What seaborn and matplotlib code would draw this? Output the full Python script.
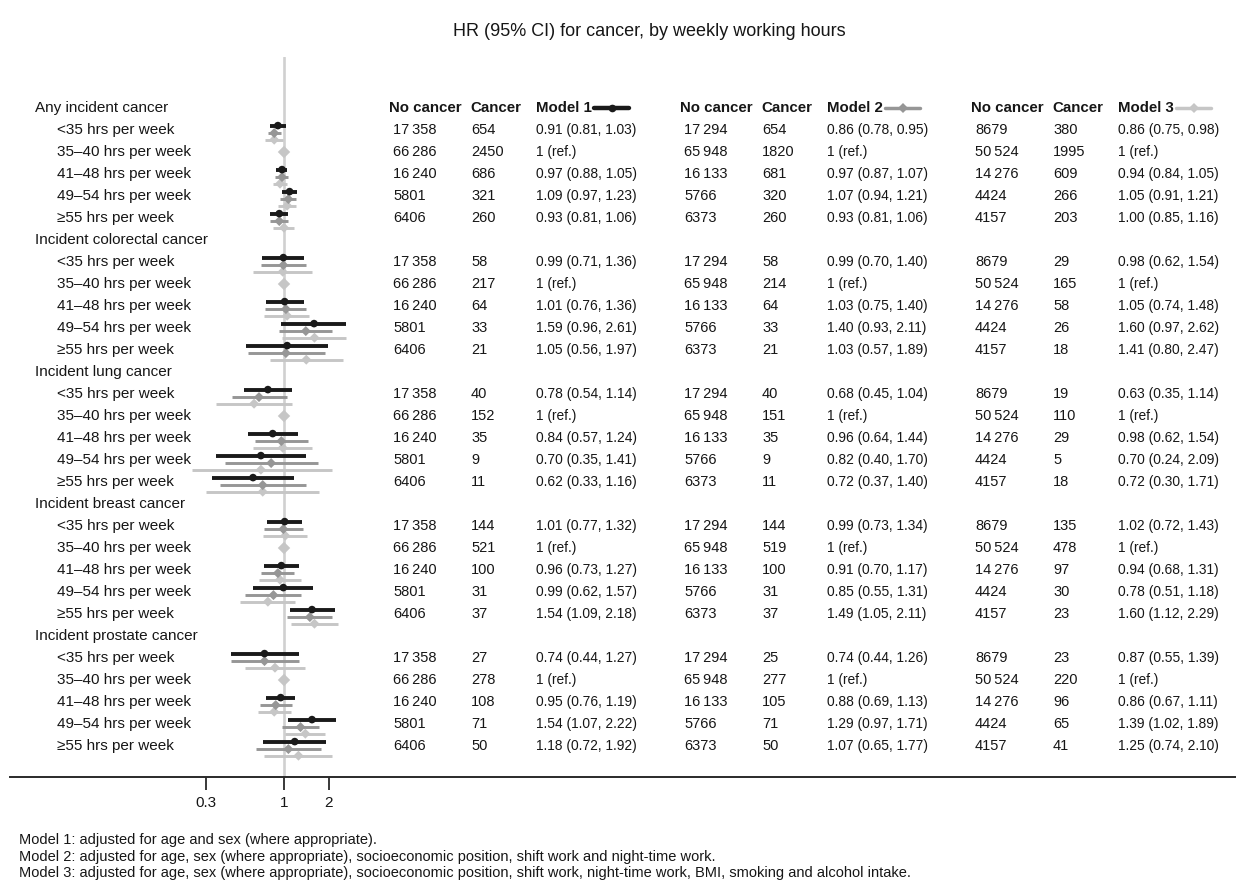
import numpy as np
import pandas as pd
import matplotlib
matplotlib.use("Agg")
import matplotlib.pyplot as plt
import seaborn as sns
from matplotlib.transforms import blended_transform_factory
from matplotlib.lines import Line2D

# ---------------- data ----------------
outcomes = ["Any incident cancer", "Incident colorectal cancer", "Incident lung cancer",
            "Incident breast cancer", "Incident prostate cancer"]
hours = ["<35 hrs per week", "35\u201340 hrs per week", "41\u201348 hrs per week",
         "49\u201354 hrs per week", "\u226555 hrs per week"]
models = ["Model 1", "Model 2", "Model 3"]

m1_nocancer = [17358, 66286, 16240, 5801, 6406]
m2_nocancer = [17294, 65948, 16133, 5766, 6373]
m3_nocancer = [8679, 50524, 14276, 4424, 4157]

m1_cases = [[654, 2450, 686, 321, 260], [58, 217, 64, 33, 21], [40, 152, 35, 9, 11],
            [144, 521, 100, 31, 37], [27, 278, 108, 71, 50]]
m2_cases = [[654, 1820, 681, 320, 260], [58, 214, 64, 33, 21], [40, 151, 35, 9, 11],
            [144, 519, 100, 31, 37], [25, 277, 105, 71, 50]]
m3_cases = [[380, 1995, 609, 266, 203], [29, 165, 58, 26, 18], [19, 110, 29, 5, 18],
            [135, 478, 97, 30, 23], [23, 220, 96, 65, 41]]

m1_hr = [[0.91, None, 0.97, 1.09, 0.93], [0.99, None, 1.01, 1.59, 1.05], [0.78, None, 0.84, 0.70, 0.62],
         [1.01, None, 0.96, 0.99, 1.54], [0.74, None, 0.95, 1.54, 1.18]]
m1_lo = [[0.81, None, 0.88, 0.97, 0.81], [0.71, None, 0.76, 0.96, 0.56], [0.54, None, 0.57, 0.35, 0.33],
         [0.77, None, 0.73, 0.62, 1.09], [0.44, None, 0.76, 1.07, 0.72]]
m1_hi = [[1.03, None, 1.05, 1.23, 1.06], [1.36, None, 1.36, 2.61, 1.97], [1.14, None, 1.24, 1.41, 1.16],
         [1.32, None, 1.27, 1.57, 2.18], [1.27, None, 1.19, 2.22, 1.92]]

m2_hr = [[0.86, None, 0.97, 1.07, 0.93], [0.99, None, 1.03, 1.40, 1.03], [0.68, None, 0.96, 0.82, 0.72],
         [0.99, None, 0.91, 0.85, 1.49], [0.74, None, 0.88, 1.29, 1.07]]
m2_lo = [[0.78, None, 0.87, 0.94, 0.81], [0.70, None, 0.75, 0.93, 0.57], [0.45, None, 0.64, 0.40, 0.37],
         [0.73, None, 0.70, 0.55, 1.05], [0.44, None, 0.69, 0.97, 0.65]]
m2_hi = [[0.95, None, 1.07, 1.21, 1.06], [1.40, None, 1.40, 2.11, 1.89], [1.04, None, 1.44, 1.70, 1.40],
         [1.34, None, 1.17, 1.31, 2.11], [1.26, None, 1.13, 1.71, 1.77]]

m3_hr = [[0.86, None, 0.94, 1.05, 1.00], [0.98, None, 1.05, 1.60, 1.41], [0.63, None, 0.98, 0.70, 0.72],
         [1.02, None, 0.94, 0.78, 1.60], [0.87, None, 0.86, 1.39, 1.25]]
m3_lo = [[0.75, None, 0.84, 0.91, 0.85], [0.62, None, 0.74, 0.97, 0.80], [0.35, None, 0.62, 0.24, 0.30],
         [0.72, None, 0.68, 0.51, 1.12], [0.55, None, 0.67, 1.02, 0.74]]
m3_hi = [[0.98, None, 1.05, 1.21, 1.16], [1.54, None, 1.48, 2.62, 2.47], [1.14, None, 1.54, 2.09, 1.71],
         [1.43, None, 1.31, 1.18, 2.29], [1.39, None, 1.11, 1.89, 2.10]]

tick_values = [0.3, 1, 2]
tick_labels = ["0.3", "1", "2"]

title = "HR (95% CI) for cancer, by weekly working hours"
footnotes = [
    "Model 1: adjusted for age and sex (where appropriate).",
    "Model 2: adjusted for age, sex (where appropriate), socioeconomic position, shift work and night-time work.",
    "Model 3: adjusted for age, sex (where appropriate), socioeconomic position, shift work, night-time work, BMI, smoking and alcohol intake.",
]

# ---------------- style ----------------
sns.set_theme(style="white")
plt.rcParams["font.family"] = ["Liberation Sans", "DejaVu Sans"]
TXT = "#161616"
colors = {"Model 1": "#1a1a1a", "Model 2": "#969696", "Model 3": "#c6c6c6"}
markers = {"Model 1": "o", "Model 2": "D", "Model 3": "D"}
msize = {"Model 1": 30, "Model 2": 26, "Model 3": 26}
ci_lw = {"Model 1": 2.8, "Model 2": 2.1, "Model 3": 2.1}
offsets = {"Model 1": -0.20, "Model 2": 0.14, "Model 3": 0.44}

W, H = 1236, 880
fig = plt.figure(figsize=(W / 100, H / 100), dpi=100)
ax_l, ax_r, ax_t, ax_b = 10, 1236, 57, 777
ax = fig.add_axes([ax_l / W, 1 - ax_b / H, (ax_r - ax_l) / W, (ax_b - ax_t) / H])

row0_px, row_step = 108, 22.0
ax.set_ylim((ax_b - row0_px) / row_step, (ax_t - row0_px) / row_step)
px_per_ln = 64.8
x1_px = 284
ax.set_xscale("log")
ax.set_xlim(np.exp((ax_l - x1_px) / px_per_ln), np.exp((ax_r - x1_px) / px_per_ln))

# ---------------- build long table ----------------
recs = []
all_hr = {"Model 1": (m1_hr, m1_lo, m1_hi), "Model 2": (m2_hr, m2_lo, m2_hi), "Model 3": (m3_hr, m3_lo, m3_hi)}
for g in range(len(outcomes)):
    for h in range(len(hours)):
        line = g * 6 + 1 + h
        for m in models:
            hr, lo, hi = all_hr[m]
            recs.append(dict(outcome=outcomes[g], hours=hours[h], model=m, line=line,
                             hr=hr[g][h], lo=lo[g][h], hi=hi[g][h]))
df = pd.DataFrame(recs)
est = df[df["hr"].notna()].copy()
est["ypos"] = est["line"] + est["model"].map(offsets)
ref = df[df["hr"].isna() & (df["model"] == "Model 3")].copy()
ref["hr"] = 1.0

# reference line
ax.axvline(1, color="#d0d0d0", lw=1.9, zorder=0)

# CIs and point estimates (model 3 drawn first, model 1 on top)
for i, m in enumerate(["Model 3", "Model 2", "Model 1"]):
    d = est[est["model"] == m]
    ax.hlines(d["ypos"], d["lo"], d["hi"], color=colors[m], lw=ci_lw[m], zorder=1 + i)
for i, m in enumerate(["Model 3", "Model 2", "Model 1"]):
    d = est[est["model"] == m]
    sns.scatterplot(data=d, x="hr", y="ypos", color=colors[m], marker=markers[m],
                    s=msize[m], edgecolor="none", linewidth=0,
                    legend=False, ax=ax, zorder=5 + i)
sns.scatterplot(data=ref, x="hr", y="line", color=colors["Model 3"], marker="D", s=40,
                edgecolor="none", linewidth=0, legend=False, ax=ax, zorder=4)

# axes styling
for s in ["top", "left", "right"]:
    ax.spines[s].set_visible(False)
ax.spines["bottom"].set_color("#2a2a2a")
ax.spines["bottom"].set_linewidth(1.4)
ax.set_xticks(tick_values)
ax.set_xticklabels(tick_labels)
ax.xaxis.set_minor_locator(matplotlib.ticker.NullLocator())
ax.tick_params(axis="x", bottom=True, length=9, width=1.3, color="#2a2a2a", pad=5,
               labelsize=11, labelcolor=TXT)
ax.set_yticks([])
ax.set_xlabel("")
ax.set_ylabel("")
ax.grid(False)

# ---------------- text table ----------------
tr = blended_transform_factory(fig.transFigure, ax.transData)


def fx(px):
    return px / W


def fmt_n(n):
    s = str(n)
    return s[:-3] + "\u2009" + s[-3:] if n >= 10000 else s


for g, name in enumerate(outcomes):
    ax.text(fx(35), g * 6, name, transform=tr, va="center", ha="left", fontsize=11, color=TXT)
    for h, lab in enumerate(hours):
        ax.text(fx(57), g * 6 + 1 + h, lab, transform=tr, va="center", ha="left", fontsize=11, color=TXT)

group_x = [389, 680, 971]
nocancer = [m1_nocancer, m2_nocancer, m3_nocancer]
cases = [m1_cases, m2_cases, m3_cases]
for k, m in enumerate(models):
    gx = group_x[k]
    ax.text(fx(gx), 0, "No cancer", transform=tr, va="center", ha="left", fontsize=10.8,
            fontweight="bold", color=TXT)
    ax.text(fx(gx + 81), 0, "Cancer", transform=tr, va="center", ha="left", fontsize=10.8,
            fontweight="bold", color=TXT)
    ax.text(fx(gx + 147), 0, m, transform=tr, va="center", ha="left", fontsize=10.8,
            fontweight="bold", color=TXT)
    # legend glyph
    yfig = 1 - row0_px / H
    fig.add_artist(Line2D([fx(gx + 205), fx(gx + 240)], [yfig, yfig], transform=fig.transFigure,
                          color=colors[m], lw=ci_lw[m] + 0.4))
    fig.add_artist(Line2D([fx(gx + 223)], [yfig], transform=fig.transFigure, color=colors[m],
                          marker=markers[m], markersize=5.5, markeredgewidth=0))
    hr, lo, hi = all_hr[m]
    for g in range(len(outcomes)):
        for h in range(len(hours)):
            line = g * 6 + 1 + h
            ax.text(fx(gx + 4), line, fmt_n(nocancer[k][h]), transform=tr, va="center", ha="left",
                    fontsize=10.5, color=TXT)
            ax.text(fx(gx + 82), line, str(cases[k][g][h]), transform=tr, va="center", ha="left",
                    fontsize=10.5, color=TXT)
            if hr[g][h] is None:
                s = "1 (ref.)"
            else:
                s = f"{hr[g][h]:.2f} ({lo[g][h]:.2f}, {hi[g][h]:.2f})"
            ax.text(fx(gx + 147), line, s, transform=tr, va="center", ha="left",
                    fontsize=9.9, color=TXT)

fig.text(fx(649), 1 - 31 / H, title, ha="center", va="center", fontsize=13, color=TXT)
for i, t in enumerate(footnotes):
    fig.text(fx(19), 1 - (840 + 16.5 * i) / H, t, ha="left", va="center", fontsize=10.5, color=TXT)

fig.savefig("out.png", dpi=100, facecolor="white")
